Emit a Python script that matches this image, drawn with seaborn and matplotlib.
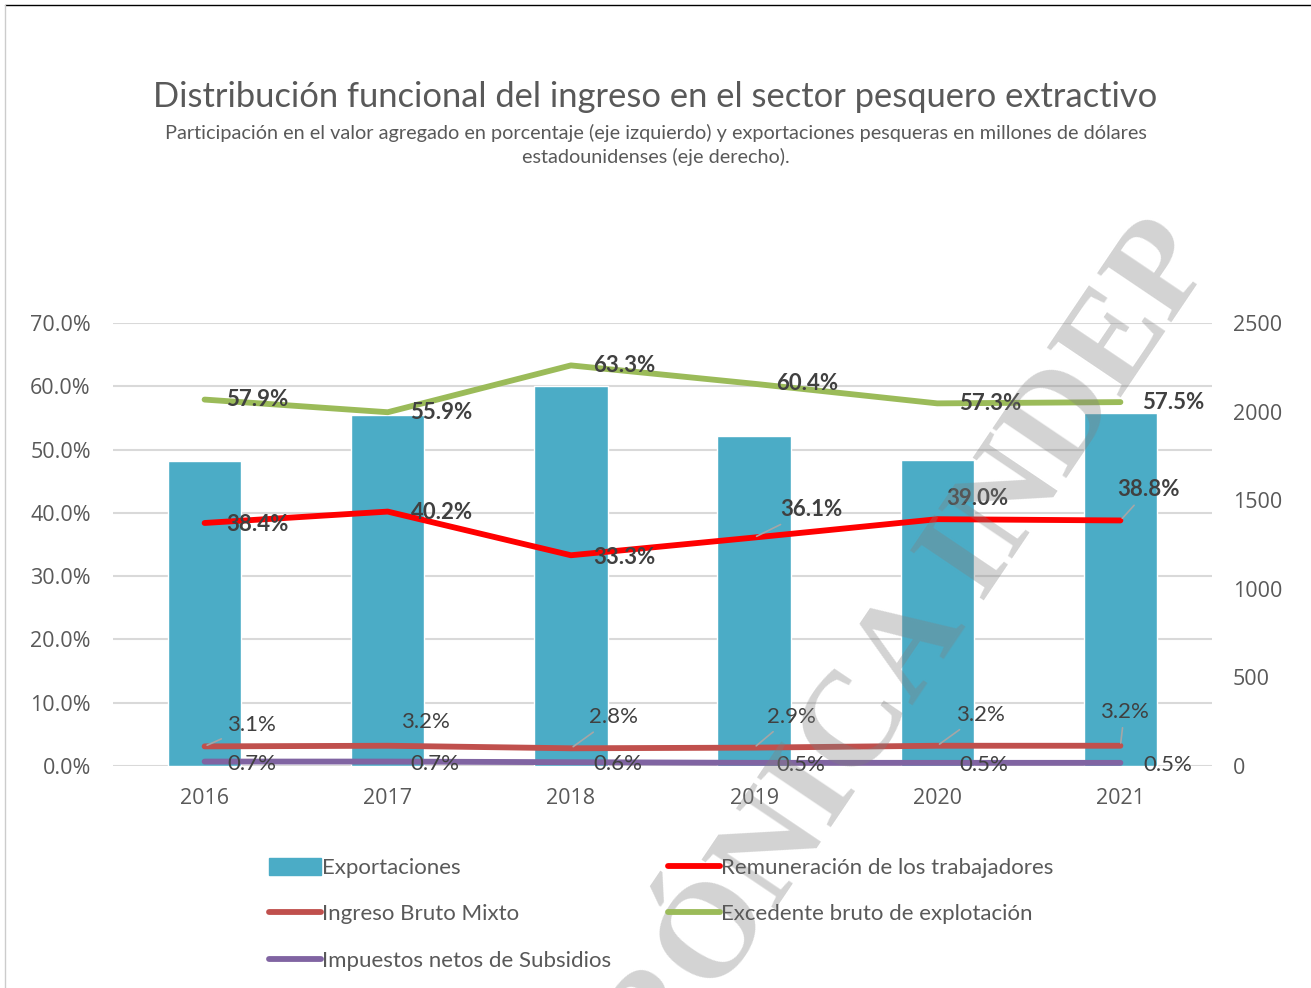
import numpy as np
import matplotlib.pyplot as plt
import matplotlib.lines as mlines
import matplotlib.patches as mpatches
from matplotlib.ticker import FuncFormatter
import seaborn as sns

sns.set_style("white")
plt.rcParams['font.family'] = ['Lato', 'DejaVu Sans']

## data
years = ['2016', '2017', '2018', '2019', '2020', '2021']
exportaciones = [1720, 1980, 2145, 1860, 1725, 1990]          # millones USD (eje derecho)
remuneracion = [38.4, 40.2, 33.3, 36.1, 39.0, 38.8]           # % valor agregado
ingreso_mixto = [3.1, 3.2, 2.8, 2.9, 3.2, 3.2]
excedente = [57.9, 55.9, 63.3, 60.4, 57.3, 57.5]
impuestos = [0.7, 0.7, 0.6, 0.5, 0.5, 0.5]

# label offsets in pixels (dx, dy) and whether a leader line is drawn
off_right = [(53, 0)] * 6
off_rem = [(53, -2), (54, -1), (53, -2), (57, 28), (40, 21), (28, 31)]
lead_rem = [False, False, False, True, False, True]
off_ing = [(47, 21), (38, 24), (43, 31), (37, 31), (43, 31), (4, 34)]
lead_ing = [True, False, True, True, True, True]
off_imp = [(47, -2)] * 6

W, H = 1311, 988
fig = plt.figure(figsize=(W / 100, H / 100), dpi=100)
ax = fig.add_axes([113 / W, 1 - 766 / H, (1212 - 113) / W, (766 - 323) / H])
ax2 = ax.twinx()
ax3 = ax.twinx()

pos = np.arange(len(years))

# bars on the right axis
sns.barplot(x=years, y=exportaciones, ax=ax2, color='#4BACC6', width=0.4,
            saturation=1, zorder=2)

series = [
    (remuneracion, '#FF0000', 'Remuneración de los trabajadores'),
    (ingreso_mixto, '#C0504D', 'Ingreso Bruto Mixto'),
    (excedente, '#9BBB59', 'Excedente bruto de explotación'),
    (impuestos, '#8064A2', 'Impuestos netos de Subsidios'),
]
for vals, col, lab in series:
    sns.lineplot(x=pos, y=vals, ax=ax3, color=col, lw=4.2, sort=False,
                 solid_capstyle='round', legend=False)

grey = '#404040'
def put_labels(vals, offs, leads, bold):
    for i, v in enumerate(vals):
        dx, dy = offs[i]
        kw = {}
        if leads[i]:
            kw['arrowprops'] = dict(arrowstyle='-', color='#a6a6a6', lw=1.2,
                                    shrinkA=2, shrinkB=2)
        ax3.annotate(f'{v:.1f}%', (pos[i], v), xytext=(dx * 0.72, dy * 0.72),
                     textcoords='offset points', ha='center', va='center',
                     fontsize=16, color=grey,
                     fontweight='bold' if bold else 'normal', **kw)

put_labels(excedente, off_right, [False] * 6, True)
put_labels(remuneracion, off_rem, lead_rem, True)
put_labels(ingreso_mixto, off_ing, lead_ing, False)
put_labels(impuestos, off_imp, [False] * 6, False)

# axes setup
for a in (ax, ax2, ax3):
    a.set_xlim(-0.5, len(years) - 0.5)
    for s in a.spines.values():
        s.set_visible(False)
    a.set_xlabel('')
    a.set_ylabel('')

ax.set_ylim(0, 70)
ax3.set_ylim(0, 70)
ax2.set_ylim(0, 2500)
ax.set_yticks(np.arange(0, 71, 10))
ax.yaxis.set_major_formatter(FuncFormatter(lambda v, p: f'{v:.1f}%'))
ax.grid(axis='y', color='#d9d9d9', lw=1.5)
ax.grid(axis='x', visible=False)
ax.set_axisbelow(True)
ax2.set_yticks(np.arange(0, 2501, 500))
ax3.set_yticks([])
ax.set_xticks(pos, years)

tick_font = dict(family=['Open Sans', 'DejaVu Sans'], size=15.5)
ax.tick_params(axis='both', length=0, labelcolor='#595959')
ax.tick_params(axis='y', pad=16)
ax.tick_params(axis='x', pad=16)
ax2.tick_params(axis='y', length=0, labelcolor='#595959', pad=15)
for lbl in ax.get_xticklabels() + ax.get_yticklabels() + ax2.get_yticklabels():
    lbl.set_fontfamily(tick_font['family'])
    lbl.set_fontsize(tick_font['size'])

# titles
fig.text(0.5, 1 - 97 / H, 'Distribución funcional del ingreso en el sector pesquero extractivo',
         ha='center', va='center', fontsize=24.8, color='#595959')
fig.text(0.5, 1 - 145 / H,
         'Participación en el valor agregado en porcentaje (eje izquierdo) y exportaciones pesqueras en millones de dólares\nestadounidenses (eje derecho).',
         ha='center', va='center', fontsize=14.3, color='#595959', linespacing=1.38)

# legend
handles = [
    mpatches.Patch(color='#4BACC6', label='Exportaciones'),
    mlines.Line2D([], [], color='#C0504D', lw=4.2, solid_capstyle='round', label='Ingreso Bruto Mixto'),
    mlines.Line2D([], [], color='#8064A2', lw=4.2, solid_capstyle='round', label='Impuestos netos de Subsidios'),
    mlines.Line2D([], [], color='#FF0000', lw=4.2, solid_capstyle='round', label='Remuneración de los trabajadores'),
    mlines.Line2D([], [], color='#9BBB59', lw=4.2, solid_capstyle='round', label='Excedente bruto de explotación'),
]
leg = fig.legend(handles=handles, ncol=2, loc='upper left',
                 bbox_to_anchor=(249 / W, 1 - 838 / H), frameon=False,
                 fontsize=16, handlelength=2.35, handletextpad=0.05,
                 columnspacing=2.55, labelspacing=1.17, handleheight=0.8)
for t in leg.get_texts():
    t.set_color('#595959')

# watermark
fig.text(885 / W, 1 - 690 / H, 'CRÓNICA INDEP', rotation=56, rotation_mode='anchor',
         ha='center', va='center', fontsize=97, fontweight='bold',
         family=['Liberation Serif', 'DejaVu Serif'], color='#808080', alpha=0.35)

# frame lines top/left
fig.add_artist(mlines.Line2D([5 / W, 1], [1 - 5 / H, 1 - 5 / H], color='black', lw=1))
fig.add_artist(mlines.Line2D([5 / W, 5 / W], [0, 1 - 5 / H], color='#cccccc', lw=1))

fig.savefig('out.png', dpi=100)
